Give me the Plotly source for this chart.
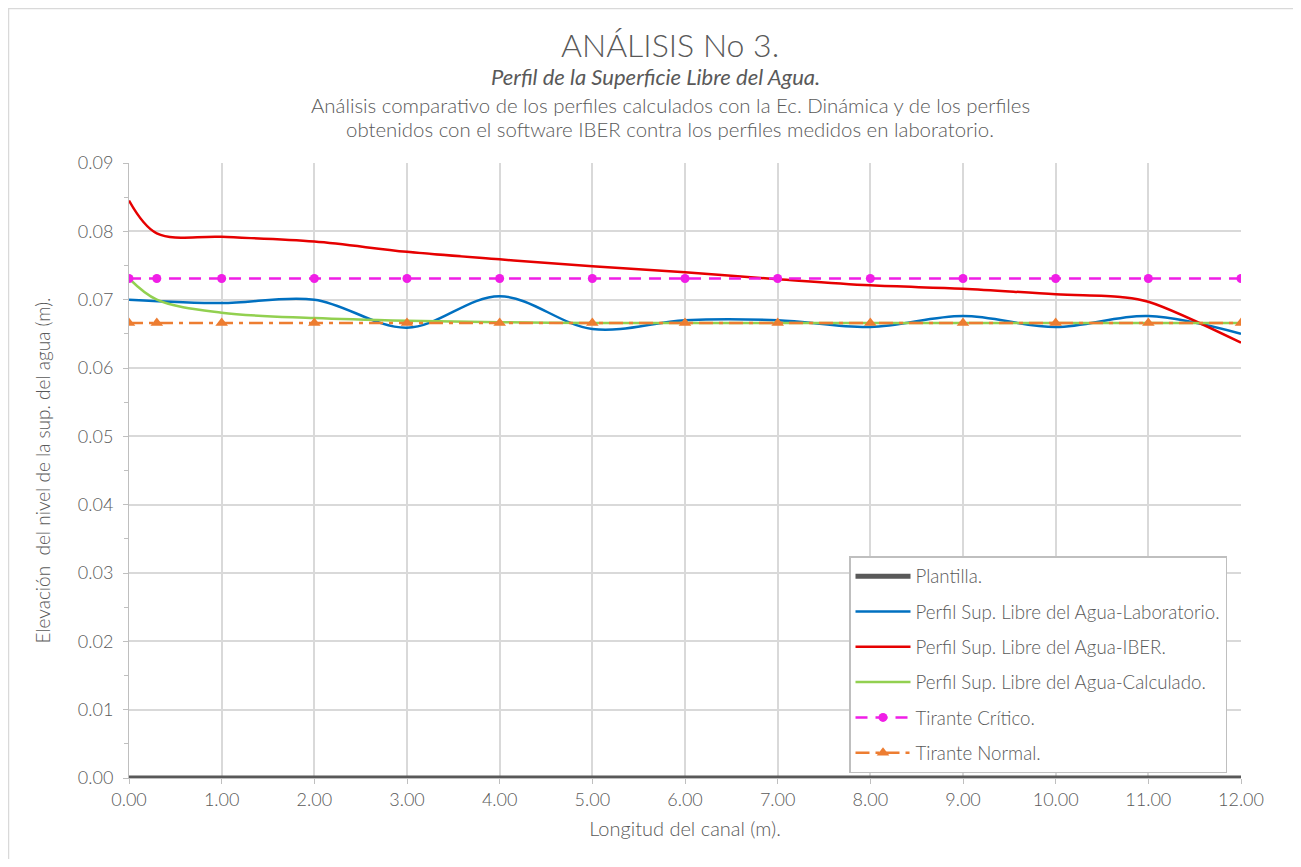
import plotly.graph_objects as go

# datos
x_perfil = [0.0, 1.0, 2.0, 3.0, 4.0, 5.0, 6.0, 7.0, 8.0, 9.0, 10.0, 11.0, 12.0]
y_laboratorio = [0.0700, 0.0695, 0.0700, 0.0659, 0.0705, 0.0657, 0.0670, 0.0670, 0.0660, 0.0676, 0.0660, 0.0676, 0.0650]

x_iber = [0.0, 0.3, 1.0, 2.0, 3.0, 4.0, 5.0, 6.0, 7.0, 8.0, 9.0, 10.0, 10.7, 11.0, 12.0]
y_iber = [0.0845, 0.0797, 0.0792, 0.0785, 0.0770, 0.0759, 0.0749, 0.0740, 0.0730, 0.0721, 0.0716, 0.0708, 0.0704, 0.0697, 0.0637]

x_calc = [0.0, 0.3, 1.0, 2.0, 3.0, 4.0, 5.0, 6.0, 7.0, 8.0, 9.0, 10.0, 11.0, 12.0]
y_calc = [0.0731, 0.0700, 0.0681, 0.0673, 0.0669, 0.0667, 0.0666, 0.0666, 0.0666, 0.0666, 0.0666, 0.0666, 0.0666, 0.0666]

x_tirantes = [0.0, 0.3, 1.0, 2.0, 3.0, 4.0, 5.0, 6.0, 7.0, 8.0, 9.0, 10.0, 11.0, 12.0]
y_critico = [0.0731] * len(x_tirantes)
y_normal = [0.0666] * len(x_tirantes)

x_plantilla = [0.0, 12.0]
y_plantilla = [0.0, 0.0]

gris = '#595959'
fuente = 'Lato'
peso = 300

# la página tiene 8 px de margen en el body: el área de trazado va de x=129..1241, y=163..778 en pantalla
OX, OY = 8, 8
L, T, W, H = 129 - OX, 163 - OY, 1112, 615
ANCHO, ALTO = 1285, 851


def px(xp):
    return (xp - 129) / W


def py(yp):
    return (778 - yp) / H


def letra(size):
    return dict(size=size, color=gris, family=fuente, weight=peso)


fig = go.Figure()

fig.add_trace(go.Scatter(x=x_plantilla, y=y_plantilla, mode='lines', name='Plantilla.', legendgroup='a',
                         line=dict(color='#595959', width=5)))
fig.add_trace(go.Scatter(x=x_perfil, y=y_laboratorio, mode='lines', legendgroup='b',
                         name='Perfil Sup. Libre del Agua-Laboratorio.',
                         line=dict(color='#0070C0', width=2.5, shape='spline', smoothing=1)))
fig.add_trace(go.Scatter(x=x_iber, y=y_iber, mode='lines', legendgroup='c',
                         name='Perfil Sup. Libre del Agua-IBER.',
                         line=dict(color='#E60000', width=2.5, shape='spline', smoothing=1)))
fig.add_trace(go.Scatter(x=x_calc, y=y_calc, mode='lines', legendgroup='d',
                         name='Perfil Sup. Libre del Agua-Calculado.',
                         line=dict(color='#92D050', width=2.5, shape='spline', smoothing=1)))
fig.add_trace(go.Scatter(x=x_tirantes, y=y_critico, mode='lines+markers', name='Tirante Crítico.', legendgroup='e',
                         line=dict(color='#F01EE6', width=2.5, dash='12px,8px'),
                         marker=dict(symbol='circle', size=9, color='#F01EE6')))
fig.add_trace(go.Scatter(x=x_tirantes, y=y_normal, mode='lines+markers', name='Tirante Normal.', legendgroup='f',
                         line=dict(color='#ED7D31', width=2.5, dash='14px,6px,4px,6px'),
                         marker=dict(symbol='triangle-up', size=11, color='#ED7D31')))

# marco exterior del gráfico
fig.add_shape(type='rect', xref='paper', yref='paper',
              x0=px(8.5), x1=px(1320), y0=py(900), y1=py(8.5),
              line=dict(color='#D9D9D9', width=1.5), fillcolor='rgba(0,0,0,0)', layer='below')

# títulos
fig.add_annotation(text='ANÁLISIS No 3.', xref='paper', yref='paper', x=px(670), y=py(45),
                   xanchor='center', yanchor='middle', showarrow=False, font=letra(32))
fig.add_annotation(text='<i>Perfil de la Superficie Libre del Agua.</i>', xref='paper', yref='paper',
                   x=px(655), y=py(77), xanchor='center', yanchor='middle', showarrow=False,
                   font=dict(size=22, color=gris, family=fuente, weight=400))
fig.add_annotation(text='Análisis comparativo de los perfiles calculados con la Ec. Dinámica y de los perfiles',
                   xref='paper', yref='paper', x=px(670), y=py(105), xanchor='center', yanchor='middle',
                   showarrow=False, font=letra(20.4))
fig.add_annotation(text='obtenidos con el software IBER contra los perfiles medidos en laboratorio.',
                   xref='paper', yref='paper', x=px(670), y=py(129), xanchor='center', yanchor='middle',
                   showarrow=False, font=letra(20.4))

fig.update_layout(
    width=ANCHO, height=ALTO,
    margin=dict(l=L, r=ANCHO - L - W, t=T, b=ALTO - T - H),
    plot_bgcolor='white', paper_bgcolor='white',
    font=letra(18),
    showlegend=True,
    legend=dict(x=px(849), y=py(556), xanchor='left', yanchor='top',
                bgcolor='white', bordercolor='#BFBFBF', borderwidth=1.5,
                font=letra(18.7), tracegroupgap=8, itemwidth=55),
    xaxis=dict(range=[0, 12], tickmode='linear', tick0=0, dtick=1, tickformat='.2f',
               showgrid=True, gridcolor='#D9D9D9', gridwidth=1.5, zeroline=False,
               showline=True, linecolor='#BFBFBF', ticks='outside', ticklen=5, tickcolor='#BFBFBF',
               tickfont=letra(18),
               title=dict(text='Longitud del canal (m).', font=letra(20), standoff=13)),
    yaxis=dict(range=[0, 0.09], tickmode='linear', tick0=0, dtick=0.01, tickformat='.2f',
               showgrid=True, gridcolor='#D9D9D9', gridwidth=1.5, zeroline=False,
               showline=True, linecolor='#BFBFBF', ticks='outside', ticklen=5, tickcolor='#BFBFBF',
               ticklabelstandoff=6,
               minor=dict(dtick=0.005, ticks='outside', ticklen=4, tickcolor='#BFBFBF', showgrid=False),
               tickfont=letra(18),
               title=dict(text='Elevación  del nivel de la sup. del agua (m).', font=letra(19), standoff=22)),
)

fig.write_html('out.html')
